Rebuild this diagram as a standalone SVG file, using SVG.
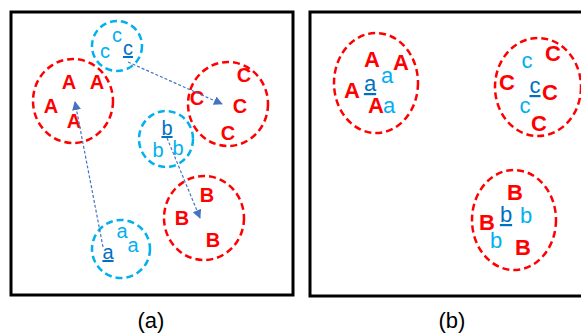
<svg xmlns="http://www.w3.org/2000/svg" width="581" height="335" viewBox="0 0 581 335">
<style>
.box{fill:none;stroke:#000;stroke-width:3}
.rc{fill:none;stroke:#FF0000;stroke-width:2.5;stroke-dasharray:7 4}
.bc{fill:none;stroke:#00B0F0;stroke-width:2.5;stroke-dasharray:7 4}
.R{font-family:"Liberation Sans",Arial,sans-serif;font-weight:bold;fill:#FF0000;text-anchor:middle}
.L{font-family:"Liberation Sans",Arial,sans-serif;fill:#00B0F0;text-anchor:middle}
.U{font-family:"Liberation Sans",Arial,sans-serif;fill:#0070C0;text-anchor:middle;text-decoration:underline}
.a{font-size:20px}
.b{font-size:22px}
.cap{font-family:"Liberation Sans",Arial,sans-serif;font-size:22px;fill:#000;text-anchor:middle}
.arr{fill:none;stroke:#4472C4;stroke-width:1.2;stroke-dasharray:3 2}
</style>
<defs>
<marker id="ah" viewBox="0 0 10 10" refX="9" refY="5" markerWidth="9" markerHeight="9" markerUnits="userSpaceOnUse" orient="auto">
<path d="M0,0 L10,5 L0,10 z" fill="#4472C4"/>
</marker>
</defs>
<rect class="box" x="11" y="12" width="282" height="283"/>
<rect class="box" x="310" y="12" width="300" height="284"/>
<text class="cap" x="151" y="328">(a)</text>
<text class="cap" x="452" y="328">(b)</text>

<g id="a-c-cluster">
<circle class="bc" cx="117" cy="46" r="25"/>
<text class="L a" x="117" y="42">c</text>
<text class="L a" x="105" y="58">c</text>
<text class="U a" x="128" y="55">c</text>
</g>
<g id="a-A-cluster">
<ellipse class="rc" cx="73" cy="101" rx="40" ry="42"/>
<text class="R a" x="69" y="89">A</text>
<text class="R a" x="97" y="89">A</text>
<text class="R a" x="51" y="113">A</text>
<text class="R a" x="74" y="128">A</text>
</g>
<g id="a-C-cluster">
<ellipse class="rc" cx="228" cy="104" rx="40" ry="42"/>
<text class="R a" x="244" y="82">C</text>
<text class="R a" x="197" y="105">C</text>
<text class="R a" x="240" y="113">C</text>
<text class="R a" x="228" y="140">C</text>
</g>
<g id="a-b-cluster">
<ellipse class="bc" cx="166" cy="139" rx="27" ry="28"/>
<text class="U a" x="167" y="135">b</text>
<text class="L a" x="158" y="157">b</text>
<text class="L a" x="178" y="155">b</text>
</g>
<g id="a-B-cluster">
<ellipse class="rc" cx="204" cy="218" rx="40" ry="42"/>
<text class="R a" x="207" y="202">B</text>
<text class="R a" x="182" y="225">B</text>
<text class="R a" x="213" y="247">B</text>
</g>
<g id="a-a-cluster">
<circle class="bc" cx="121" cy="249" r="29"/>
<text class="L a" x="122" y="238">a</text>
<text class="L a" x="133" y="252">a</text>
<text class="U a" x="108" y="259">a</text>
</g>

<g id="connectors">
<line class="arr" x1="128" y1="62" x2="222" y2="104" marker-end="url(#ah)"/>
<line class="arr" x1="103" y1="247" x2="75" y2="102" marker-end="url(#ah)"/>
<line class="arr" x1="167" y1="138" x2="200" y2="218" marker-end="url(#ah)"/>
</g>

<g id="b-A-cluster">
<ellipse class="rc" cx="376" cy="83" rx="42" ry="50"/>
<text class="R b" x="372" y="67">A</text>
<text class="R b" x="401" y="70">A</text>
<text class="R b" x="352" y="98">A</text>
<text class="R b" x="376" y="113">A</text>
<text class="L b" x="387" y="83">a</text>
<text class="U b" x="370" y="91">a</text>
<text class="L b" x="389" y="113">a</text>
</g>
<g id="b-C-cluster">
<ellipse class="rc" cx="538" cy="87" rx="43" ry="49"/>
<text class="R b" x="553" y="61">C</text>
<text class="L b" x="527" y="68">c</text>
<text class="R b" x="507" y="90">C</text>
<text class="U b" x="535" y="93">c</text>
<text class="R b" x="550" y="100">C</text>
<text class="L b" x="525" y="113">c</text>
<text class="R b" x="539" y="131">C</text>
</g>
<g id="b-B-cluster">
<ellipse class="rc" cx="514" cy="220" rx="42" ry="50"/>
<text class="R b" x="515" y="200">B</text>
<text class="R b" x="487" y="230">B</text>
<text class="U b" x="506" y="222">b</text>
<text class="L b" x="526" y="223">b</text>
<text class="L b" x="496" y="248">b</text>
<text class="R b" x="523" y="255">B</text>
</g>
</svg>
